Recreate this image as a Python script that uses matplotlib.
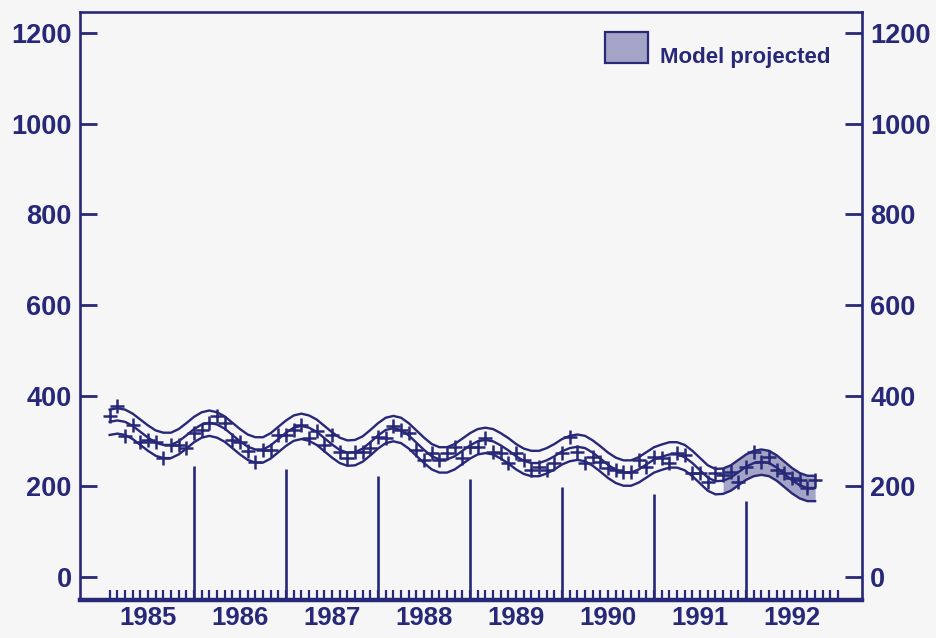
import numpy as np
import matplotlib.pyplot as plt
from matplotlib.patches import Rectangle

plt.rcParams['font.family'] = ['Liberation Sans', 'DejaVu Sans']
plt.rcParams['font.weight'] = 'bold'

navy = '#282878'
shade = '#a4a4c6'

# monthly values, Jan 1985 .. Sep 1992 (plotted at end of month)
fit = [342, 345, 342, 333, 320, 307, 296, 291, 291, 299, 312, 326,
       336, 340, 336, 327, 313, 299, 287, 281, 281, 290, 304, 318,
       329, 333, 329, 320, 306, 292, 280, 274, 275, 283, 297, 312,
       324, 328, 324, 312, 296, 280, 266, 259, 259, 266, 278, 290,
       299, 302, 299, 290, 279, 266, 256, 251, 251, 257, 266, 277,
       284, 287, 284, 274, 261, 247, 236, 230, 230, 237, 248, 259,
       265, 270, 270, 264, 251, 235, 219, 211, 212, 219, 231, 243,
       251, 254, 251, 241, 227, 213, 202, 196, 196]

obs = [354, 376, 311, 335, 298, 302, 298, 262, 291, 291, 285, 317,
       324, 340, 354, 340, 302, 298, 278, 254, 280, 280, 313, 313,
       324, 335, 307, 321, 291, 313, 276, 262, 276, 276, 284, 309,
       307, 333, 324, 317, 280, 258, 273, 258, 273, 287, 262, 287,
       287, 307, 276, 273, 251, 273, 258, 236, 243, 236, 251, 273,
       309, 276, 251, 265, 254, 240, 236, 232, 232, 258, 243, 265,
       262, 251, 273, 269, 229, 229, 210, 229, 225, 232, 210, 243,
       276, 254, 265, 236, 229, 218, 214, 196, 214]

band_up = 27
band_dn = 29
proj_start = 80   # first month of the projected part

years = list(range(1985, 1993))
year_marks = [1986, 1987, 1988, 1989, 1990, 1991, 1992]
year_mark_vals = [245, 238, 223, 215, 198, 183, 168]

t = 1985 + (np.arange(len(fit)) + 1) / 12.0
fit = np.array(fit)
upper = fit + band_up
lower = fit - band_dn

fig = plt.figure(figsize=(9.37, 6.38), dpi=100, facecolor='#f6f6f6')
ax = fig.add_axes([0.0854, 0.0596, 0.8346, 0.9216])
ax.set_facecolor('#f6f6f6')

ax.fill_between(t[proj_start:], lower[proj_start:], upper[proj_start:],
                color=shade, lw=0, zorder=1)
ax.plot(t, upper, color=navy, lw=1.7, zorder=2)
ax.plot(t, fit, color=navy, lw=1.7, zorder=2)
ax.plot(t, lower, color=navy, lw=1.7, zorder=2)
ax.plot(t, obs, ls='none', marker='+', ms=10, mew=1.8, color=navy, zorder=3)

ax.set_ylim(-51, 1246)
ax.vlines(year_marks, -51, year_mark_vals, color=navy, lw=1.9, zorder=2)
ax.set_xlim(1984.761, 1993.26)

ax.set_yticks(range(0, 1201, 200))
ax.tick_params(axis='y', direction='in', length=12.5, width=2, color=navy,
               left=True, right=True, labelleft=True, labelright=True,
               labelsize=19.5, labelcolor=navy, pad=6)

ax.xaxis.remove_overlapping_locs = False
ax.set_xticks([y + 0.5 for y in years])
ax.set_xticklabels([str(y) for y in years])
ax.set_xticks(1985 + (np.arange(96) + 1) / 12.0, minor=True)
ax.tick_params(axis='x', which='major', length=0, labelsize=18.5,
               labelcolor=navy, pad=4)
ax.tick_params(axis='x', which='minor', direction='in', length=7,
               width=1.6, color=navy)

for side in ['left', 'right', 'top']:
    ax.spines[side].set_color(navy)
    ax.spines[side].set_linewidth(1.9)
ax.spines['bottom'].set_color(navy)
ax.spines['bottom'].set_linewidth(3.2)

# legend
ax.add_patch(Rectangle((0.671, 0.913), 0.055, 0.053, transform=ax.transAxes,
                       facecolor=shade, edgecolor=navy, lw=1.6, zorder=4))
ax.text(0.742, 0.923, 'Model projected', transform=ax.transAxes,
        fontsize=16, color=navy, va='center', ha='left')

fig.savefig('out.png', dpi=100, facecolor=fig.get_facecolor())
